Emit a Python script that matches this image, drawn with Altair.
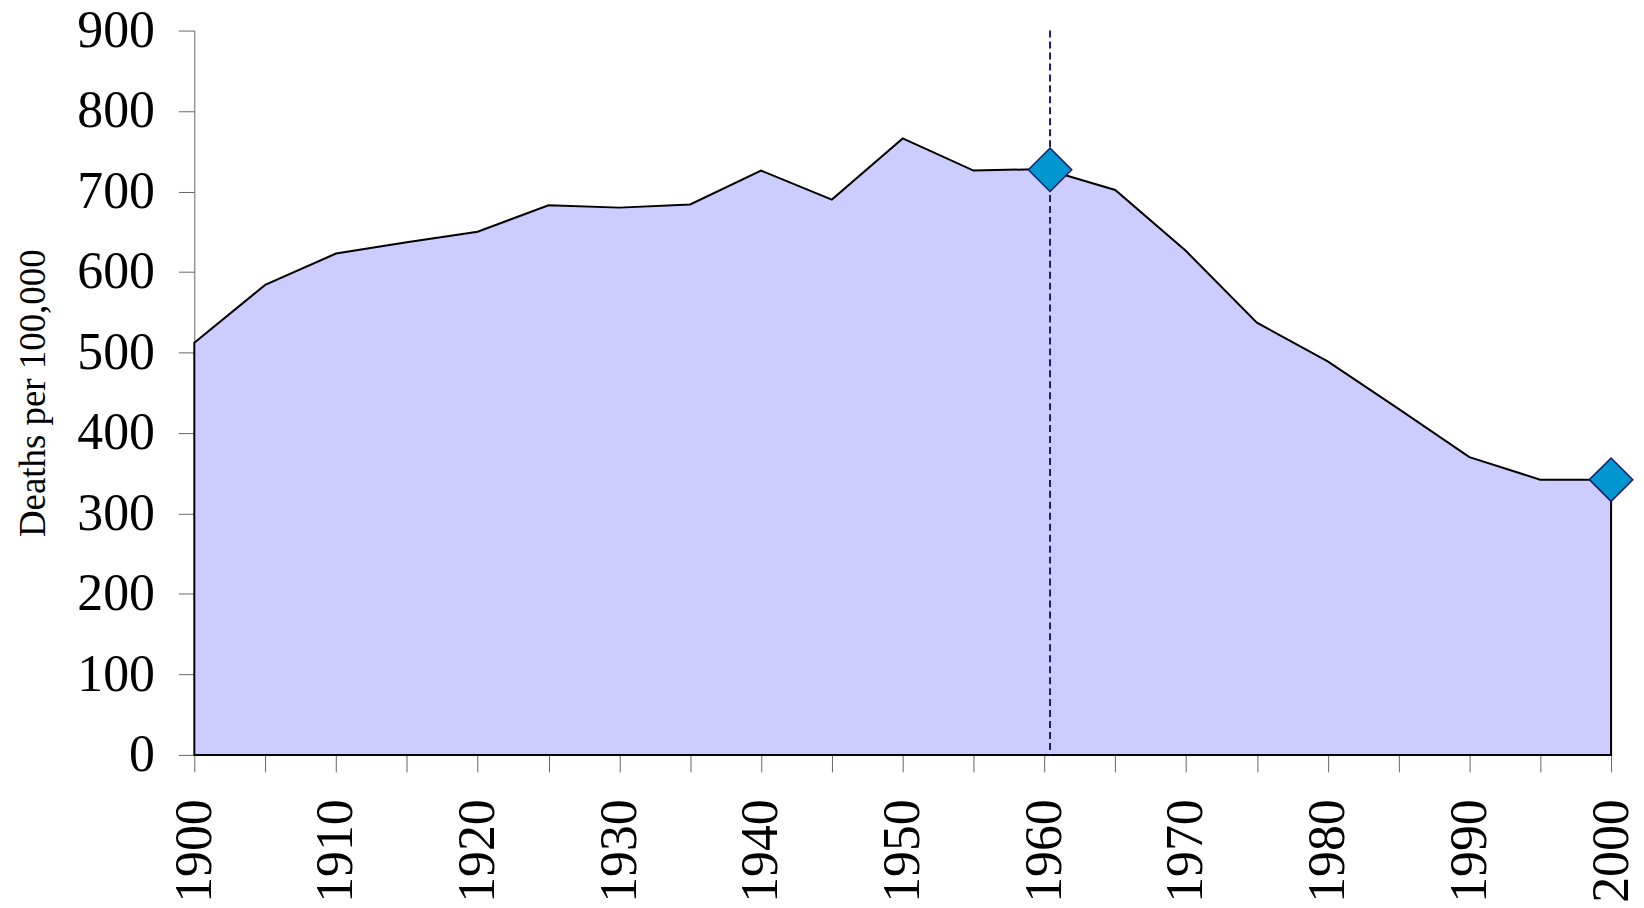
import altair as alt
import pandas as pd

years = [1900, 1905, 1910, 1915, 1920, 1925, 1930, 1935, 1940, 1945, 1950,
         1955, 1960, 1965, 1970, 1975, 1980, 1985, 1990, 1995, 2000]
deaths = [512, 584, 623, 637, 650, 683, 680, 684, 726, 690, 766,
          726, 728, 702, 626, 537, 489, 430, 370, 342, 342]

marker_years = [1960.4, 2000]
marker_values = [727, 342]

rule_year = [1960.4]
rule_top = [900]
rule_bottom = [0]

tick_years = list(range(1900, 2001, 5))
y_ticks = list(range(0, 901, 100))

df = pd.DataFrame({"year": years, "deaths": deaths})
mk = pd.DataFrame({"year": marker_years, "deaths": marker_values})
rl = pd.DataFrame({"year": rule_year, "top": rule_top, "bottom": rule_bottom})

FONT = "Liberation Serif"

xscale = alt.Scale(domain=[1900, 2000], nice=False, zero=False)
yscale = alt.Scale(domain=[0, 900], nice=False)

xaxis = alt.Axis(
    values=tick_years,
    format="d",
    labelExpr="datum.value % 10 == 0 ? datum.label : ''",
    labelAngle=270,
    labelFontSize=52,
    labelFont=FONT,
    labelColor="black",
    labelPadding=27,
    labelFlush=False,
    labelOverlap=False,
    tickSize=17,
    tickColor="#666666",
    domainColor="#666666",
    grid=False,
    title=None,
)
yaxis = alt.Axis(
    values=y_ticks,
    labelFontSize=52,
    labelFont=FONT,
    labelColor="black",
    labelPadding=24,
    labelFlush=False,
    labelOverlap=False,
    tickSize=16,
    tickColor="#666666",
    domainColor="#666666",
    grid=False,
    title="Deaths per 100,000",
    titleFont=FONT,
    titleFontSize=37,
    titleFontWeight="normal",
    titleColor="black",
    titlePadding=24,
)

area = alt.Chart(df).mark_area(
    fill="#CCCCFF", stroke="black", strokeWidth=2, opacity=1
).encode(
    x=alt.X("year:Q", scale=xscale, axis=xaxis),
    y=alt.Y("deaths:Q", scale=yscale, axis=yaxis),
)

rule = alt.Chart(rl).mark_rule(
    color="#1C1C6B", strokeDash=[7, 4], strokeWidth=2
).encode(
    x=alt.X("year:Q", scale=xscale),
    y=alt.Y("top:Q", scale=yscale),
    y2="bottom:Q",
)

points = alt.Chart(mk).mark_point(
    shape="diamond", size=1900, filled=True, fill="#0096CF",
    stroke="#1C1C6B", strokeWidth=1.5, opacity=1
).encode(
    x=alt.X("year:Q", scale=xscale),
    y=alt.Y("deaths:Q", scale=yscale),
)

chart = alt.layer(area, rule, points).properties(
    width=1422,
    height=727,
    autosize=alt.AutoSizeParams(type="none"),
    padding={"left": 187, "top": 21, "right": 25, "bottom": 148},
).configure(background="white").configure_view(strokeWidth=0)

chart.save("out.html", embed_options={"renderer": "svg", "actions": False})
